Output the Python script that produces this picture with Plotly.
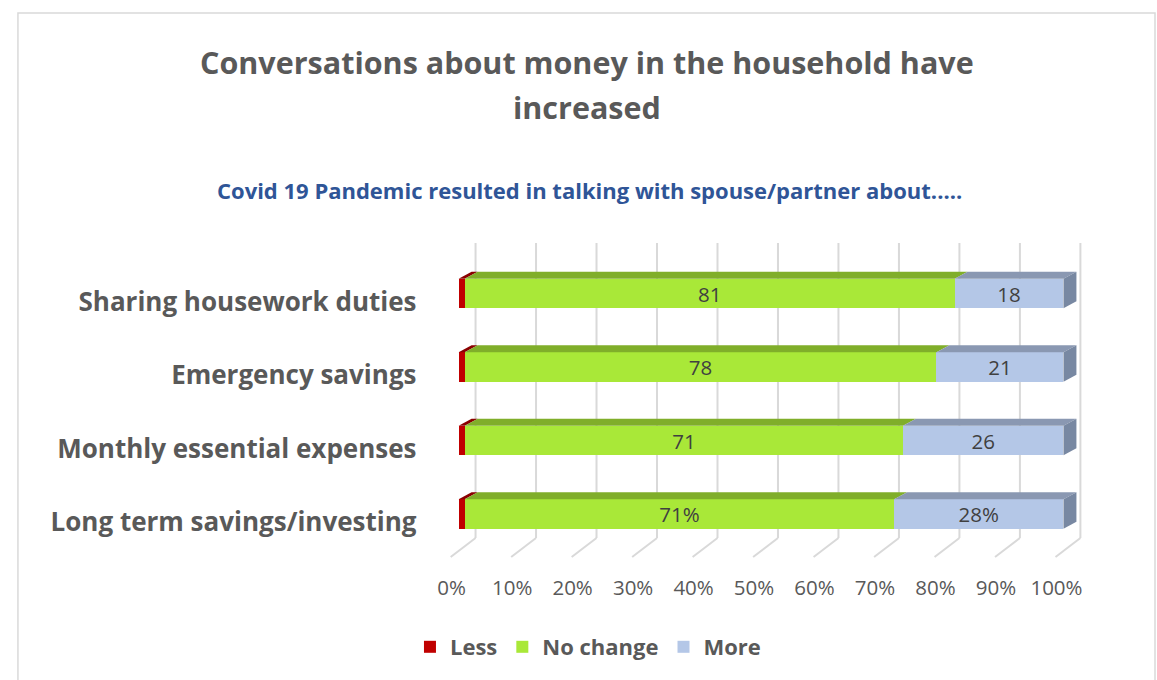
import plotly.graph_objects as go

# ---- data -------------------------------------------------------------
categories = [
    "Long term savings/investing",
    "Monthly essential expenses",
    "Emergency savings",
    "Sharing housework duties",
]
less = [1, 1, 1, 1]
no_change = [71, 71, 78, 81]
more = [28, 26, 21, 18]
no_change_labels = ["71%", "71", "78", "81"]
more_labels = ["28%", "26", "21", "18"]
x_ticks = list(range(0, 101, 10))
x_tick_labels = [f"{v}%" for v in x_ticks]

# ---- look & geometry --------------------------------------------------
W, H = 1157, 680
FONT = "Open Sans"
GREY_TXT = "#595959"
C_LESS, C_LESS_TOP = "#c00000", "#8a0000"
C_NC, C_NC_TOP = "#a9e838", "#80ae2a"
C_MORE, C_MORE_TOP, C_MORE_SIDE = "#b4c7e7", "#8a98b2", "#7888a2"
GRID = "#d9d9d9"

PX_PER_PCT = 6.08        # horizontal scale of the value axis
X0_PX = 455              # pixel of 0 % on the bar front plane
X_RANGE = [-2.5, 104.5]
ROW_PX = 73.5            # pixels between category rows
TOP_ROW_PX = 293.5       # centre of the top row
BAR_W = 0.4
DEPTH_X = 13 / PX_PER_PCT    # oblique depth of the bars (in % units)
DEPTH_Y = 7 / ROW_PX         # oblique depth of the bars (in row units)
GRID_BACK = 17 / PX_PER_PCT  # back wall offset
GRID_FRONT = -8 / PX_PER_PCT # front floor offset

n = len(categories)
ypos = list(range(n))
x_dom = [(X0_PX + X_RANGE[0] * PX_PER_PCT) / W, (X0_PX + X_RANGE[1] * PX_PER_PCT) / W]
bottom_row_px = TOP_ROW_PX + (n - 1) * ROW_PX
y_dom = [1 - (bottom_row_px + ROW_PX / 2) / H, 1 - (TOP_ROW_PX - ROW_PX / 2) / H]


def py(px):
    return 1 - px / H


fig = go.Figure()
series = [
    ("Less", less, C_LESS, [""] * n),
    ("No change", no_change, C_NC, no_change_labels),
    ("More", more, C_MORE, more_labels),
]
for name, vals, col, labels in series:
    fig.add_trace(go.Bar(
        name=name, y=ypos, x=vals, orientation="h", width=BAR_W,
        marker=dict(color=col, line=dict(width=0)),
        text=labels, textposition="inside", insidetextanchor="middle",
        textangle=0, constraintext="none",
        textfont=dict(family=FONT, size=20.5, color="#404040"),
        hoverinfo="skip",
    ))

shapes = []

# back wall / floor grid lines
for v in x_ticks:
    shapes.append(dict(type="line", xref="x", yref="paper", layer="below",
                       x0=v + GRID_BACK, x1=v + GRID_BACK, y0=py(538), y1=py(243),
                       line=dict(color=GRID, width=2)))
    shapes.append(dict(type="line", xref="x", yref="paper", layer="below",
                       x0=v + GRID_BACK, x1=v + GRID_FRONT, y0=py(538), y1=py(557),
                       line=dict(color=GRID, width=2)))

# oblique top faces and right end faces of the stacked bars
tops = [C_LESS_TOP, C_NC_TOP, C_MORE_TOP]
for i in range(n):
    total = less[i] + no_change[i] + more[i]
    start = 0.0
    yt = ypos[i] + BAR_W / 2
    yb = ypos[i] - BAR_W / 2
    for (name, vals, col, labels), topc in zip(series, tops):
        end = start + vals[i] / total * 100
        shapes.append(dict(
            type="path", xref="x", yref="y", layer="above",
            path=(f"M {start},{yt} L {end},{yt} L {end + DEPTH_X},{yt + DEPTH_Y} "
                  f"L {start + DEPTH_X},{yt + DEPTH_Y} Z"),
            fillcolor=topc, line=dict(width=0)))
        start = end
    shapes.append(dict(
        type="path", xref="x", yref="y", layer="above",
        path=(f"M {start},{yb} L {start},{yt} L {start + DEPTH_X},{yt + DEPTH_Y} "
              f"L {start + DEPTH_X},{yb + DEPTH_Y} Z"),
        fillcolor=C_MORE_SIDE, line=dict(width=0)))

# chart area border
shapes.append(dict(type="rect", xref="paper", yref="paper", layer="below",
                   x0=12 / W, x1=1155 / W, y0=-0.05, y1=py(13),
                   line=dict(color="#d9d9d9", width=1.5)))

annotations = [
    dict(text="<b>Conversations about money in the household have</b>",
         x=584 / W, y=py(62), xref="paper", yref="paper", showarrow=False,
         xanchor="center", yanchor="middle",
         font=dict(family=FONT, size=30.5, color=GREY_TXT)),
    dict(text="<b>increased</b>",
         x=584 / W, y=py(107), xref="paper", yref="paper", showarrow=False,
         xanchor="center", yanchor="middle",
         font=dict(family=FONT, size=30.5, color=GREY_TXT)),
    dict(text="<b>Covid 19 Pandemic resulted in talking with spouse/partner about.....</b>",
         x=587 / W, y=py(190), xref="paper", yref="paper", showarrow=False,
         xanchor="center", yanchor="middle",
         font=dict(family=FONT, size=22, color="#2f5597")),
]

fig.update_layout(
    width=W, height=H,
    margin=dict(l=0, r=0, t=0, b=0),
    paper_bgcolor="white", plot_bgcolor="rgba(0,0,0,0)",
    barmode="stack", barnorm="percent",
    shapes=shapes, annotations=annotations,
    xaxis=dict(domain=x_dom, range=X_RANGE, showgrid=False, zeroline=False,
               showline=False, ticks="", tickvals=x_ticks, ticktext=x_tick_labels,
               tickfont=dict(family=FONT, size=20.5, color=GREY_TXT),
               ticklabelshift=-7, ticklabelstandoff=23, fixedrange=True),
    yaxis=dict(domain=y_dom, range=[-0.5, n - 0.5], showgrid=False, zeroline=False,
               showline=False, ticks="", tickvals=ypos, ticktext=categories,
               tickfont=dict(family=FONT, size=26, color=GREY_TXT, weight="bold"),
               ticklabelshift=8, ticklabelstandoff=26, fixedrange=True),
    legend=dict(orientation="h", x=585 / W, xanchor="center", y=py(647),
                yanchor="middle", traceorder="normal",
                font=dict(family=FONT, size=22, color=GREY_TXT, weight="bold")),
    showlegend=True,
)

fig.write_html("out.html")
